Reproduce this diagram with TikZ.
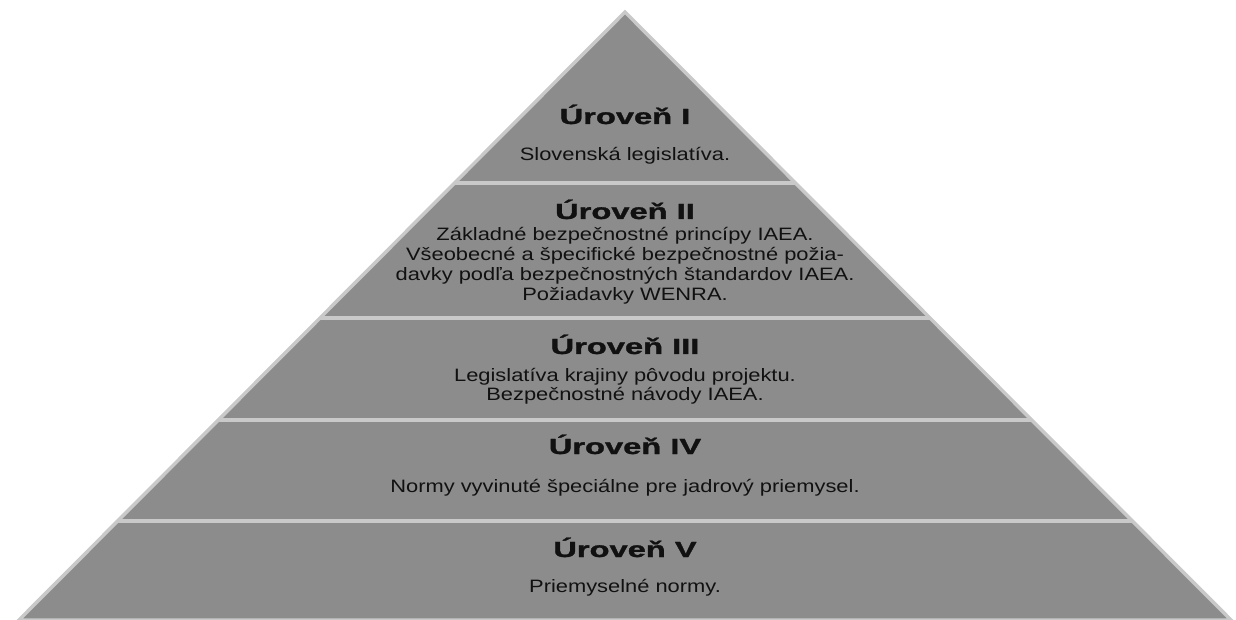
\documentclass[tikz,border=0pt]{standalone}
\usepackage{fontspec}
\setmainfont{Liberation Sans}
\newfontfamily\heavyfont{Liberation Sans Bold}[FakeBold=1.2]
\usepackage{graphicx}
\usetikzlibrary{calc}
\definecolor{pyrfill}{HTML}{8C8C8C}
\definecolor{pyredge}{HTML}{C9C9C9}
\definecolor{pyrtext}{HTML}{111111}
\newcommand{\leveltitle}[1]{\scalebox{1.49}[1]{\fontsize{22}{26}\heavyfont #1}}
\newcommand{\levelbody}[1]{\scalebox{1.22}[1]{\fontsize{18}{20}\selectfont\begin{tabular}[t]{@{}c@{}}#1\end{tabular}}}
\tikzset{
    pyramid/.style={
        fill=pyrfill,
        draw=pyredge,
        line width=3.5bp,
        line join=miter
    },
    divider/.style={
        draw=pyredge,
        line width=3.5bp
    },
    titlelabel/.style={
        anchor=base,
        inner sep=0pt,
        text=pyrtext
    },
    bodylabel/.style={
        anchor=base,
        inner sep=0pt,
        text=pyrtext
    }
}
\begin{document}
\begin{tikzpicture}[x=1bp,y=-1bp]
        \useasboundingbox (0,0) rectangle (1236,620);
        \clip (0,0) rectangle (1236,620);

        \coordinate (apex) at (625,12);
        \coordinate (bl) at (19,620);
        \coordinate (br) at (1231,620);

        \draw[pyramid] (apex) -- (bl) -- (br) -- cycle;

        % level dividers
        \coordinate (d1l) at ($(apex)!0.28125!(bl)$);
        \coordinate (d1r) at ($(apex)!0.28125!(br)$);
        \coordinate (d2l) at ($(apex)!0.5033!(bl)$);
        \coordinate (d2r) at ($(apex)!0.5033!(br)$);
        \coordinate (d3l) at ($(apex)!0.671!(bl)$);
        \coordinate (d3r) at ($(apex)!0.671!(br)$);
        \coordinate (d4l) at ($(apex)!0.8372!(bl)$);
        \coordinate (d4r) at ($(apex)!0.8372!(br)$);
        \draw[divider] (d1l) -- (d1r);
        \draw[divider] (d2l) -- (d2r);
        \draw[divider] (d3l) -- (d3r);
        \draw[divider] (d4l) -- (d4r);

        \node[titlelabel] (lvlI) at (625,124) {\leveltitle{Úroveň I}};
        \node[bodylabel] (descI) at (625,161) {\levelbody{Slovenská legislatíva.}};

        \node[titlelabel] (lvlII) at (625,219) {\leveltitle{Úroveň II}};
        \node[bodylabel] (descII) at (625,241) {\levelbody{
            Základné bezpečnostné princípy IAEA.\\
            Všeobecné a špecifické bezpečnostné požia-\\
            davky podľa bezpečnostných štandardov IAEA.\\
            Požiadavky WENRA.}};

        \node[titlelabel] (lvlIII) at (625,354) {\leveltitle{Úroveň III}};
        \node[bodylabel] (descIII) at (625,381) {\levelbody{
            Legislatíva krajiny pôvodu projektu.\\
            Bezpečnostné návody IAEA.}};

        \node[titlelabel] (lvlIV) at (625,454) {\leveltitle{Úroveň IV}};
        \node[bodylabel] (descIV) at (625,492) {\levelbody{Normy vyvinuté špeciálne pre jadrový priemysel.}};

        \node[titlelabel] (lvlV) at (625,557) {\leveltitle{Úroveň V}};
        \node[bodylabel] (descV) at (625,592) {\levelbody{Priemyselné normy.}};
    \end{tikzpicture}
\end{document}
